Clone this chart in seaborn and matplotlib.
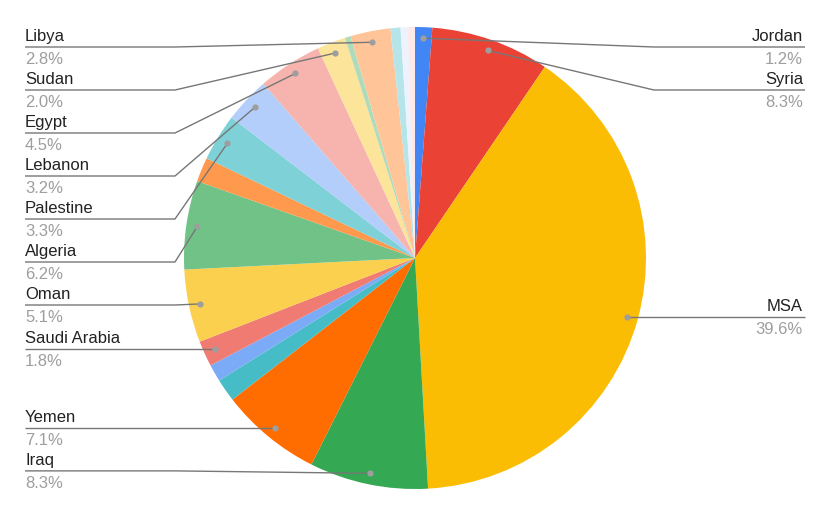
import numpy as np
import matplotlib
matplotlib.use("Agg")
import matplotlib.pyplot as plt
import seaborn as sns

# ---- data (clockwise from 12 o'clock) ----
categories = ["Jordan", "Syria", "MSA", "Iraq", "Yemen", "", "", "Saudi Arabia",
              "Oman", "Algeria", "", "Palestine", "Lebanon", "Egypt", "Sudan", "",
              "Libya", "", "", ""]
shares = [1.2, 8.3, 39.6, 8.3, 7.1, 1.6, 1.2, 1.8,
          5.1, 6.2, 1.7, 3.3, 3.2, 4.5, 2.0, 0.4,
          2.8, 0.7, 0.5, 0.5]
colors = ["#4285F4", "#EA4335", "#FBBC04", "#34A853", "#FF6D01", "#46BDC6", "#7BAAF7", "#F07B72",
          "#FCD04F", "#71C287", "#FF994D", "#7ED1D7", "#B3CEFB", "#F7B4AE", "#FDE49B", "#AEDCBA",
          "#FFC599", "#B5E5E8", "#ECF2FE", "#FDE9E7"]

sns.set_theme(style="white")
plt.rcParams["font.family"] = ["Liberation Sans", "DejaVu Sans"]

W, H = 830, 514
fig = plt.figure(figsize=(W / 100, H / 100), dpi=100)
ax = fig.add_axes([0, 0, 1, 1])

cx, cy, R = 415, H - 258, 231
wedges, _ = ax.pie(shares, colors=colors, startangle=90, counterclock=False,
                   center=(cx, cy), radius=R, frame=True,
                   wedgeprops=dict(linewidth=0))
ax.set_xlim(0, W)
ax.set_ylim(0, H)
ax.set_aspect("equal")
ax.axis("off")

# ---- leader lines & labels ----
line_col = "#777777"
dot_col = "#9E9E9E"
left_items, right_items = [], []
for w, name, val in zip(wedges, categories, shares):
    if not name:
        continue
    mid = np.deg2rad((w.theta1 + w.theta2) / 2)
    dx, dy = cx + 0.952 * R * np.cos(mid), cy + 0.952 * R * np.sin(mid)
    item = dict(name=name, val=val, dx=dx, dy=dy)
    (right_items if dx > cx else left_items).append(item)

def place(items):
    items.sort(key=lambda d: -d["dy"])  # top first
    top, bottom, gap = H - 47, H - 468, 43
    prev = None
    for it in items:
        y = min(max(it["dy"], bottom), top)
        if prev is not None and y > prev - gap:
            y = prev - gap
        it["ly"] = y
        prev = y

place(left_items)
place(right_items)

for side, items in (("L", left_items), ("R", right_items)):
    for it in items:
        ly = it["ly"]
        if side == "L":
            xs = [25, 175, it["dx"]]
            tx, ha = 25, "left"
        else:
            xs = [805, 654, it["dx"]]
            tx, ha = 803, "right"
        ax.plot(xs, [ly, ly, it["dy"]], color=line_col, lw=1.0, solid_capstyle="butt", zorder=3)
        ax.plot([it["dx"]], [it["dy"]], "o", color=dot_col, ms=4.5, mec="none", zorder=4)
        ax.text(tx, ly + 6, it["name"], ha=ha, va="baseline", fontsize=12, color="#222222")
        ax.text(tx, ly - 17, f"{it['val']:.1f}%", ha=ha, va="baseline", fontsize=12, color="#9E9E9E")

fig.savefig("out.png", dpi=100, facecolor="white")
